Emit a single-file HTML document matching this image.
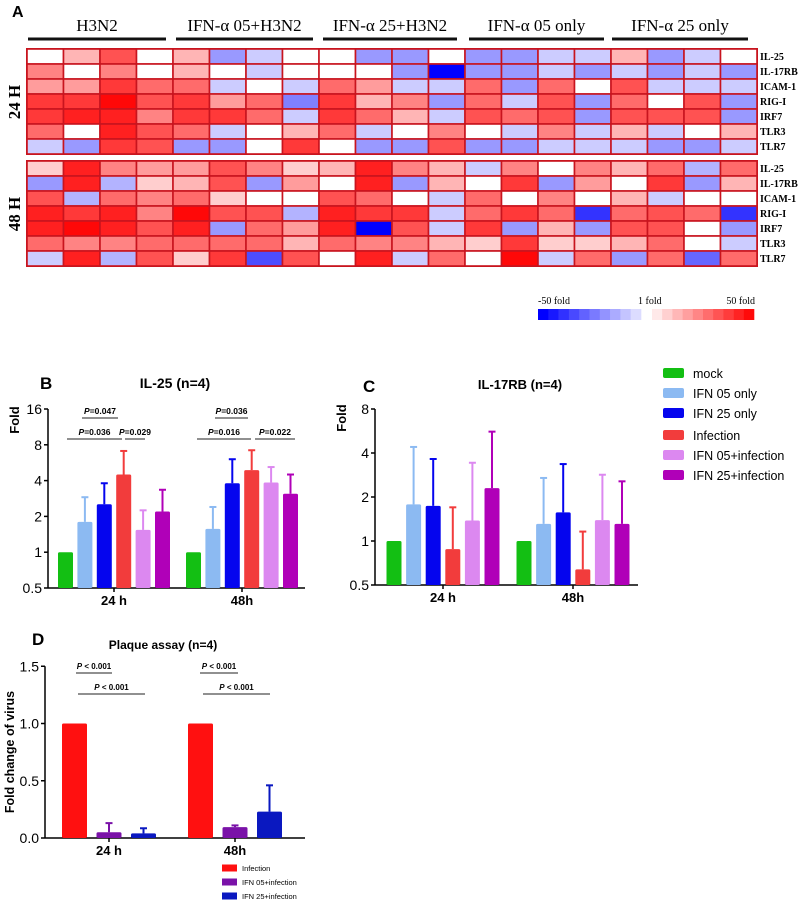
<!DOCTYPE html>
<html><head><meta charset="utf-8"><style>
body{margin:0;background:#fff;}
svg{display:block;font-family:"Liberation Sans",sans-serif;}
.serif{font-family:"Liberation Serif",serif;}
</style></head><body>
<svg id="fig" width="800" height="900" viewBox="0 0 800 900">
<g id="A"></g>
<g id="B"></g>
<g id="C"></g>
<g id="D"></g>
<g id="L"></g>
</svg>
<script>
const genes=["IL-25","IL-17RB","ICAM-1","RIG-I","IRF7","TLR3","TLR7"];
const groups=["H3N2","IFN-α 05+H3N2","IFN-α 25+H3N2","IFN-α 05 only","IFN-α 25 only"];
const heat24=[
[0,1.5,3.5,0,1.5,-2,-1,0,0,-2,-2,0,-2,-2,-1,-1,1.5,-2,-1,0],
[2.5,0,2.5,0,1.5,0,-1,0,0,0,-2,-5,-2,-2,-1,-2,-1,-2,-1,-2],
[2,2,4,3,3,-1,0,-1,3,2,-1,-1,3,-2,3,0,3.5,-1,-1,-1],
[4,4,5,3.5,4,2,3,-2.5,4,1.5,2.5,-2,3,-1,3.5,-2,3,0,3.5,-2],
[4,4.5,4.5,2.5,4,4,3,-1,4,3,1.5,-1,3.5,3,3.5,-2,3.5,3.5,3.5,-2],
[3,0,4.5,3.5,3,-1,0,1.5,3,-1,0,2.5,0,-1,2.5,-1,1.5,-1,0,1.5],
[-1,-2,4,3.5,-2,-2,0,4,0,-2,-2,3.5,-2,-2,-1,-1,-1,-2,-2,-1]];
const heat48=[
[1,4.5,2.5,2,2,3.5,2.5,1,1.5,4.5,2.5,1.5,-1,2.5,0,2.5,1.5,3,-1.5,3],
[-2,4.5,-1.5,1,1.5,3.5,-2,2,0,4.5,-2,1.5,0,4,-2,2,0,4,-2,1.5],
[3.5,-1.5,3,2.5,3,1,0,0,3.5,3,0,-1,3,0,2.5,0,1.5,-1,0,0],
[4.5,4,4.5,2.5,5,3.5,3.5,-1.5,4.5,4,4,-1,3,4,3,-4,3,3.5,3,-4],
[4.5,5,4.5,3.5,4.5,-2,3,2,4.5,-5,3.5,-1,4,-2,1.5,-2,3.5,3.5,0,-2],
[3,2.5,2.5,3,3,3,3,1.5,3,2.5,2.5,1.5,1,4,1,1,1.5,3,0,-1],
[-1,4.5,-1.5,3.5,1,4,-3.5,3.5,0,4.5,-1,3,0,5,-1,3,-2,3,-3,3]];
const series=["mock","IFN 05 only","IFN 25 only","Infection","IFN 05+infection","IFN 25+infection"];
const colors=["#13bf13","#8cbaf2","#0505ee","#f23c3c","#dc88f0","#b000b8"];
const timeCats=["24 h","48h"];
const il25Mean=[[1,1.8,2.53,4.5,1.54,2.2],[1,1.57,3.8,4.9,3.86,3.1]];
const il25Err=[[1,2.9,3.8,7.1,2.25,3.35],[1,2.4,6.05,7.2,5.2,4.5]];
const il17Mean=[[1,1.78,1.74,0.88,1.38,2.3],[1,1.31,1.57,0.64,1.39,1.31]];
const il17Err=[[1,4.4,3.64,1.7,3.43,5.6],[1,2.7,3.36,1.16,2.84,2.56]];
const plaqueSeries=["Infection","IFN 05+infection","IFN 25+infection"];
const plaqueColors=["#ff1010","#7a12a8","#0a18c0"];
const plaqueMean=[[1,0.05,0.04],[1,0.095,0.23]];
const plaqueErr=[[1,0.13,0.085],[1,0.11,0.46]];
const logTicks=[0.5,1,2,4,8,16];
const logTicksC=[0.5,1,2,4,8];
const linTicks=[0,0.5,1.0,1.5];

const NS="http://www.w3.org/2000/svg";
function mk(p,tag,a,txt){const e=document.createElementNS(NS,tag);for(const k in a)e.setAttribute(k,a[k]);if(txt!==undefined)e.textContent=txt;p.appendChild(e);return e;}

// ---- Panel A heatmap
const A=document.getElementById('A');
let t=mk(A,'text',{x:12,y:17,'font-size':16,'font-weight':'bold'},'A');


const hx0=27,cw=36.5,rh=15;
const gx=[[28,166],[176,313],[323,457],[469,604],[612,748]];
groups.forEach((g,i)=>{
 let tt=mk(A,'text',{x:(gx[i][0]+gx[i][1])/2,y:31,'text-anchor':'middle','font-size':17,class:'serif'},g);
 
 
 let l=mk(A,'line',{x1:gx[i][0],x2:gx[i][1],y1:39,y2:39,stroke:'#111','stroke-width':3});
 
 
});
function hcol(v){
 if(v>=0){const f=Math.min(v/5,1);const c=Math.round(255*(1-f*0.97));return `rgb(255,${c},${c})`;}
 const f=Math.min(-v/5,1);const c=Math.round(255*(1-f));return `rgb(${c},${c},255)`;
}
[[heat24,49,"24 H"],[heat48,161,"48 H"]].forEach(([data,y0,lab])=>{
 mk(A,'rect',{x:hx0,y:y0,width:cw*20,height:rh*7,fill:'none',stroke:'#c8141e','stroke-width':2});
 data.forEach((row,r)=>row.forEach((v,c)=>{
  let rc=mk(A,'rect',{x:hx0+c*cw,y:y0+r*rh,width:cw,height:rh,fill:hcol(v),stroke:'#c8141e','stroke-width':1.6});
  
  
 }));
 genes.forEach((g,r)=>{
  let gt=mk(A,'text',{x:760,y:y0+r*rh+11,'font-size':10,'font-weight':'bold',class:'serif'},g);
  
  
 });
 let tl=mk(A,'text',{x:0,y:0,'font-size':17,'font-weight':'bold',class:'serif','text-anchor':'middle',transform:`translate(20,${y0+53}) rotate(-90)`},lab);
 
 
});
// colorbar
for(let i=0;i<10;i++){let s=mk(A,'rect',{x:538+i*10.3,y:309,width:10.6,height:11,fill:hcol(-5+i*0.48)});
 
 }
for(let i=0;i<10;i++){let s=mk(A,'rect',{x:652+i*10.2,y:309,width:10.5,height:11,fill:hcol(0.45+i*0.5)});
 
 }
[[538,'-50 fold','start'],[638,'1 fold','start'],[755,'50 fold','end']].forEach(([x,s,an])=>{
 let e=mk(A,'text',{x:x,y:304,'font-size':10,class:'serif','text-anchor':an},s);
 
 
});

// ---- bar chart helper
function barChart(G,cfg){
 const {x0,x1,yOf,ticks,tickFmt,mean,err,cols,centers,bw,step}=cfg;
 let ax=mk(G,'line',{x1:x0,x2:x0,y1:yOf(ticks[ticks.length-1]),y2:cfg.yBase,stroke:'#000','stroke-width':1.5});
 
 
 let xa=mk(G,'line',{x1:x0,x2:x1,y1:cfg.yBase,y2:cfg.yBase,stroke:'#000','stroke-width':1.5});
 
 
 ticks.forEach(v=>{
  mk(G,'line',{x1:x0-4,x2:x0,y1:yOf(v),y2:yOf(v),stroke:'#000','stroke-width':1.5});
  let tl=mk(G,'text',{x:x0-6,y:yOf(v)+5,'text-anchor':'end','font-size':cfg.tfs||14},tickFmt(v));
  
  
 });
 timeCats.forEach((c,gi)=>{
  const cx=centers[gi];
  mk(G,'line',{x1:cx,x2:cx,y1:cfg.yBase,y2:cfg.yBase+4,stroke:'#000','stroke-width':1.5});
  let tl=mk(G,'text',{x:cx,y:cfg.yBase+17,'text-anchor':'middle','font-size':13,'font-weight':'bold'},c);
  
  
  const n=mean[gi].length;
  mean[gi].forEach((m,si)=>{
   const bx=cx+(si-(n-1)/2)*step-bw/2;
   const yt=yOf(m);
   const e=err[gi][si];
   if(e>m){
    mk(G,'line',{x1:bx+bw/2,x2:bx+bw/2,y1:yOf(e),y2:yt,stroke:cols[si],'stroke-width':2});
    mk(G,'line',{x1:bx+bw/2-3.5,x2:bx+bw/2+3.5,y1:yOf(e),y2:yOf(e),stroke:cols[si],'stroke-width':2});
   }
   let r=mk(G,'rect',{x:bx,y:Math.min(yt,cfg.yBase),width:bw,height:Math.abs(cfg.yBase-yt),fill:cols[si],rx:1.5});
   
   
  });
 });
}
function txt(G,x,y,s,a,name){let e=mk(G,'text',Object.assign({x:x,y:y},a),s);
 
 return e;}
function sig(G,x1,x2,y,label,fs){
 let l=mk(G,'line',{x1:x1,x2:x2,y1:y,y2:y,stroke:'#222','stroke-width':1});
 
 
 const e=mk(G,'text',{x:(x1+x2)/2,y:y-4,'text-anchor':'middle','font-size':fs||8.5,'font-weight':'bold'});
 
 
 const ti=mk(e,'tspan',{'font-style':'italic'},'P');
 mk(e,'tspan',{},label);
}

// ---- Panel B
const B=document.getElementById('B');
const yB=v=>588-35.8*Math.log2(v/0.5);
barChart(B,{x0:48,x1:305,yBase:588,yOf:yB,ticks:logTicks,tickFmt:v=>String(v),mean:il25Mean,err:il25Err,cols:colors,centers:[114,242],bw:15,step:19.4});
txt(B,40,389,'B',{'font-size':17,'font-weight':'bold'},'panel-b-label');
txt(B,175,388,'IL-25 (n=4)',{'font-size':14,'font-weight':'bold','text-anchor':'middle'},'chart-title');
txt(B,0,0,'Fold',{'font-size':13,'font-weight':'bold','text-anchor':'middle',transform:'translate(19,420) rotate(-90)'},'y-axis-title');
sig(B,82,118,418,'=0.047');sig(B,67,122,439,'=0.036');sig(B,125,145,439,'=0.029');
sig(B,215,248,418,'=0.036');sig(B,197,251,439,'=0.016');sig(B,255,295,439,'=0.022');

// ---- Panel C
const C=document.getElementById('C');
const yC=v=>585-44*Math.log2(v/0.5);
barChart(C,{x0:375,x1:638,yBase:585,yOf:yC,ticks:logTicksC,tickFmt:v=>String(v),mean:il17Mean,err:il17Err,cols:colors,centers:[443,573],bw:15,step:19.6});
txt(C,363,392,'C',{'font-size':17,'font-weight':'bold'},'panel-c-label');
txt(C,520,389,'IL-17RB  (n=4)',{'font-size':13,'font-weight':'bold','text-anchor':'middle'},'chart-title');
txt(C,0,0,'Fold',{'font-size':13,'font-weight':'bold','text-anchor':'middle',transform:'translate(346,418) rotate(-90)'},'y-axis-title');

// ---- Legend
const L=document.getElementById('L');
series.forEach((s,i)=>{
 const y=[373,393,413,435,455,475][i];
 let r=mk(L,'rect',{x:663,y:y-5,width:21,height:10,rx:2,fill:colors[i]});
 
 
 txt(L,693,y+5,s,{'font-size':12.5},'legend-entry');
});

// ---- Panel D
const D=document.getElementById('D');
const yD=v=>838-114.5*v;
barChart(D,{x0:45,x1:305,yBase:838,yOf:yD,ticks:linTicks,tickFmt:v=>v.toFixed(1),mean:plaqueMean,err:plaqueErr,cols:plaqueColors,centers:[109,235],bw:25,step:34.5});
txt(D,32,645,'D',{'font-size':17,'font-weight':'bold'},'panel-d-label');
txt(D,163,649,'Plaque assay  (n=4)',{'font-size':12,'font-weight':'bold','text-anchor':'middle'},'chart-title');
txt(D,0,0,'Fold change of virus',{'font-size':12.5,'font-weight':'bold','text-anchor':'middle',transform:'translate(14,752) rotate(-90)'},'y-axis-title');
sig(D,76,112,673,' < 0.001',8);sig(D,78,145,694,' < 0.001',8);
sig(D,200,238,673,' < 0.001',8);sig(D,203,270,694,' < 0.001',8);
plaqueSeries.forEach((s,i)=>{
 const y=868+i*14;
 let r=mk(D,'rect',{x:222,y:y-3.5,width:15,height:7,fill:plaqueColors[i]});
 
 
 txt(D,242,y+3,s,{'font-size':7.5},'legend-entry');
});
</script>
</body></html>
